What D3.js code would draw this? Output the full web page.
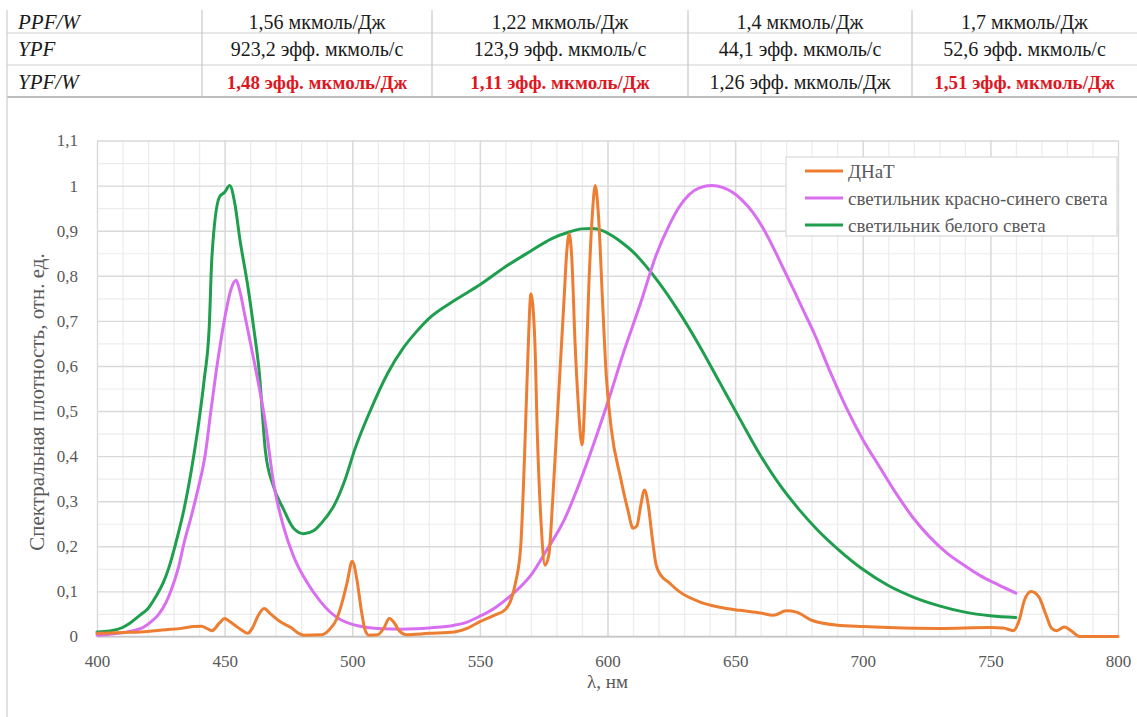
<!DOCTYPE html>
<meta charset="utf-8">
<html>
<head>
    <script src="https://d3js.org/d3.v7.min.js"></script>
    <style>
        body { margin: 0; background: #fff; }
        svg { display: block; font-family: "Liberation Serif", serif; }
        svg text { font-family: "Liberation Serif", serif; }
    </style>
</head>
<body>
<div id="chart"></div>
<script>
    // table above the chart
    var rowLabels = ["PPF/W", "YPF", "YPF/W"];
    var tableRows = [
        ["1,56 мкмоль/Дж", "1,22 мкмоль/Дж", "1,4 мкмоль/Дж", "1,7 мкмоль/Дж"],
        ["923,2 эфф. мкмоль/с", "123,9 эфф. мкмоль/с", "44,1 эфф. мкмоль/с", "52,6 эфф. мкмоль/с"],
        ["1,48 эфф. мкмоль/Дж", "1,11 эфф. мкмоль/Дж", "1,26 эфф. мкмоль/Дж", "1,51 эфф. мкмоль/Дж"]
    ];
    var highlighted = [[], [], [0, 1, 3]];

    // series
    var seriesNames = ["ДНаТ", "светильник красно-синего света", "светильник белого света"];

    var hpsWl = [400, 410, 417, 427, 433, 438, 441, 443, 445, 448, 450, 452, 454, 457, 459, 461, 463, 465.5, 468, 472, 476, 479, 481, 488, 491, 494, 496, 498, 500, 502, 503.5, 505, 506.5, 510, 512.5, 514.5, 516.5, 518.5, 521, 530, 540, 545, 550, 556, 560, 562, 564, 566, 567.5, 568.8, 570, 571.5, 572.5, 574, 575.5, 577, 578.5, 580, 581.5, 583, 584, 585, 586, 587.3, 588.5, 590, 591.5, 592.7, 594, 595.2, 596.5, 598, 599.5, 601.5, 605, 608, 610, 611.5, 613, 614.5, 616, 617.5, 619, 621, 624, 628, 636, 644, 652, 660, 665, 670, 674, 680, 690, 700, 710, 730, 750, 755, 759, 761.3, 763.3, 766, 769, 771.6, 774, 776, 779, 782, 785, 800];
    var hpsVal = [0.007, 0.009, 0.01, 0.015, 0.018, 0.022, 0.023, 0.018, 0.013, 0.03, 0.04, 0.033, 0.025, 0.013, 0.007, 0.02, 0.045, 0.062, 0.05, 0.032, 0.02, 0.007, 0.003, 0.004, 0.015, 0.04, 0.075, 0.12, 0.167, 0.12, 0.06, 0.015, 0.003, 0.004, 0.02, 0.04, 0.03, 0.012, 0.004, 0.007, 0.01, 0.018, 0.033, 0.048, 0.06, 0.078, 0.12, 0.2, 0.4, 0.62, 0.76, 0.66, 0.45, 0.25, 0.158, 0.18, 0.3, 0.45, 0.6, 0.75, 0.85, 0.893, 0.84, 0.65, 0.52, 0.425, 0.58, 0.78, 0.93, 1.0, 0.93, 0.75, 0.58, 0.46, 0.355, 0.28, 0.24, 0.245, 0.29, 0.325, 0.29, 0.22, 0.16, 0.135, 0.12, 0.1, 0.077, 0.065, 0.058, 0.052, 0.047, 0.057, 0.054, 0.036, 0.025, 0.022, 0.02, 0.018, 0.02, 0.019, 0.013, 0.036, 0.08, 0.1, 0.088, 0.051, 0.018, 0.013, 0.021, 0.011, 0, 0];

    var rbWl = [400, 405, 410, 415, 418, 421, 424, 427, 429, 432, 434, 437, 439.5, 442.5, 444.5, 446.5, 448.5, 450.5, 452.5, 454.5, 456, 458, 461.5, 465.5, 469.5, 473, 477, 482.5, 487.5, 491, 495.5, 500, 506, 512, 519, 525, 530, 540, 545, 550, 556, 562, 570, 576, 583, 589, 596, 601, 606, 613, 619, 624, 628, 632, 636, 641, 645, 649, 653, 657, 661, 665, 669, 673, 677, 681, 687, 693.5, 700, 706.5, 713, 719.5, 726, 733, 740, 746, 753, 760];
    var rbVal = [0.003, 0.005, 0.008, 0.014, 0.02, 0.032, 0.048, 0.075, 0.102, 0.155, 0.205, 0.268, 0.325, 0.407, 0.495, 0.58, 0.655, 0.72, 0.77, 0.79, 0.765, 0.71, 0.612, 0.49, 0.33, 0.245, 0.178, 0.118, 0.078, 0.056, 0.037, 0.027, 0.02, 0.017, 0.016, 0.017, 0.019, 0.025, 0.032, 0.045, 0.064, 0.09, 0.136, 0.19, 0.258, 0.34, 0.45, 0.535, 0.625, 0.74, 0.845, 0.91, 0.952, 0.98, 0.995, 1.0, 0.996, 0.985, 0.966, 0.94, 0.905, 0.862, 0.815, 0.768, 0.72, 0.672, 0.59, 0.508, 0.437, 0.377, 0.318, 0.265, 0.222, 0.185, 0.157, 0.135, 0.115, 0.096];

    var whiteWl = [400, 405, 410, 413, 417, 420, 423, 426, 428, 431, 434, 437, 440, 442, 444, 445, 448, 450, 452, 454, 456, 459, 461.5, 463.5, 466, 469, 473, 477, 481, 485, 488, 493, 497, 501, 507, 514, 520, 525, 530, 540, 550, 560, 570, 578, 585, 590, 594, 598, 602, 606, 610, 615, 620, 628, 636, 644, 652, 660, 667.5, 675, 682, 690, 700, 710, 720, 730, 740, 750, 760];
    var whiteVal = [0.01, 0.012, 0.02, 0.03, 0.048, 0.062, 0.088, 0.12, 0.15, 0.21, 0.28, 0.37, 0.48, 0.57, 0.69, 0.84, 0.975, 0.985, 1.0, 0.96, 0.88, 0.78, 0.68, 0.59, 0.41, 0.335, 0.283, 0.24, 0.228, 0.235, 0.252, 0.292, 0.345, 0.415, 0.5, 0.585, 0.64, 0.675, 0.705, 0.745, 0.78, 0.82, 0.855, 0.882, 0.897, 0.904, 0.905, 0.9, 0.888, 0.872, 0.853, 0.822, 0.786, 0.72, 0.645, 0.563, 0.481, 0.401, 0.336, 0.282, 0.238, 0.195, 0.149, 0.113, 0.087, 0.068, 0.054, 0.046, 0.042];

    var colors = ["#ed7d31", "#d96ff0", "#1f9e4e"];
    var xTicks = [400, 450, 500, 550, 600, 650, 700, 750, 800];
    var yTicks = [0, 0.1, 0.2, 0.3, 0.4, 0.5, 0.6, 0.7, 0.8, 0.9, 1, 1.1];

    var W = 1137, H = 717;
    var margin = { top: 140.5, right: 19, bottom: 80.5, left: 97 },
        width = W - margin.left - margin.right,
        height = H - margin.top - margin.bottom;

    var svg = d3.select("#chart").append("svg")
        .attr("width", W)
        .attr("height", H);

    // table
    var colEdges = [7, 202, 432, 688, 912, 1137];
    var rowEdges = [10, 33, 65, 97];
    var tbl = svg.append("g");
    rowEdges.slice(1).forEach(function (y, i) {
        tbl.append("line")
            .attr("x1", 7).attr("x2", 1137)
            .attr("y1", y).attr("y2", y)
            .attr("stroke", i == 2 ? "#bdbdbd" : "#d0d0d0")
            .attr("stroke-width", i == 2 ? 2 : 1.2);
    });
    colEdges.slice(1, 5).forEach(function (x) {
        tbl.append("line")
            .attr("x1", x).attr("x2", x)
            .attr("y1", rowEdges[0]).attr("y2", rowEdges[3])
            .attr("stroke", "#c8c8c8").attr("stroke-width", 1.2);
    });
    // frame on the left
    svg.append("line")
        .attr("x1", 7).attr("x2", 7).attr("y1", 10).attr("y2", H)
        .attr("stroke", "#cfcfcf").attr("stroke-width", 1.2);

    var rowMid = [22, 49, 82];
    rowLabels.forEach(function (lab, r) {
        tbl.append("text")
            .attr("x", 18).attr("y", rowMid[r])
            .attr("dy", "0.35em")
            .style("font-size", "21px")
            .style("font-style", "italic")
            .attr("fill", "#1a1a1a")
            .text(lab);
        tableRows[r].forEach(function (v, c) {
            var red = highlighted[r].indexOf(c) >= 0;
            tbl.append("text")
                .attr("x", (colEdges[c + 1] + colEdges[c + 2]) / 2)
                .attr("y", rowMid[r])
                .attr("dy", "0.35em")
                .attr("text-anchor", "middle")
                .style("font-size", red ? "19px" : "20px")
                .style("font-weight", red ? "bold" : "normal")
                .attr("fill", red ? "#e0161f" : "#1a1a1a")
                .text(v);
        });
    });

    var g = svg.append("g")
        .attr("transform", "translate(" + margin.left + "," + margin.top + ")");

    var x = d3.scaleLinear().domain([400, 800]).range([0, width]);
    var y = d3.scaleLinear().domain([0, 1.1]).range([height, 0]);

    // minor grid
    g.append("g")
        .attr("transform", "translate(0," + height + ")")
        .call(d3.axisBottom(x).tickValues(d3.range(410, 800, 10)).tickSize(-height).tickFormat(""))
        .call(function (s) { s.select(".domain").remove(); })
        .selectAll("line").attr("stroke", "#ececec").attr("stroke-width", 1.2);
    g.append("g")
        .call(d3.axisLeft(y).tickValues(d3.range(1, 22, 2).map(function (d) { return d * 0.05; })).tickSize(-width).tickFormat(""))
        .call(function (s) { s.select(".domain").remove(); })
        .selectAll("line").attr("stroke", "#ececec").attr("stroke-width", 1.2);

    // major grid
    g.append("g")
        .attr("transform", "translate(0," + height + ")")
        .call(d3.axisBottom(x).tickValues(xTicks).tickSize(-height).tickFormat(""))
        .call(function (s) { s.select(".domain").remove(); })
        .selectAll("line").attr("stroke", "#d9d9d9").attr("stroke-width", 1.4);
    g.append("g")
        .call(d3.axisLeft(y).tickValues(yTicks).tickSize(-width).tickFormat(""))
        .call(function (s) { s.select(".domain").remove(); })
        .selectAll("line").attr("stroke", "#d9d9d9").attr("stroke-width", 1.4);

    // bottom axis line
    g.append("line")
        .attr("x1", 0).attr("x2", width)
        .attr("y1", y(0)).attr("y2", y(0))
        .attr("stroke", "#c6c6c6").attr("stroke-width", 1.6);

    var ruFormat = d3.formatLocale({ decimal: ",", thousands: " ", grouping: [3], currency: ["", ""] }).format("~g");

    // tick labels
    var xAxis = g.append("g")
        .attr("transform", "translate(0," + height + ")")
        .call(d3.axisBottom(x).tickValues(xTicks).tickSize(0).tickPadding(18));
    xAxis.select(".domain").remove();
    xAxis.attr("font-family", null);
    xAxis.selectAll("text")
        .style("font-size", "17px")
        .attr("fill", "#595959");

    var yAxis = g.append("g")
        .call(d3.axisLeft(y).tickValues(yTicks).tickSize(0).tickPadding(19)
            .tickFormat(function (d) { return ruFormat(+d.toFixed(2)); }));
    yAxis.select(".domain").remove();
    yAxis.attr("font-family", null);
    yAxis.selectAll("text")
        .style("font-size", "17px")
        .attr("fill", "#595959");

    // axis titles
    svg.append("text")
        .attr("x", x(600) + margin.left)
        .attr("y", 688)
        .attr("text-anchor", "middle")
        .style("font-size", "19px")
        .attr("fill", "#595959")
        .text("λ, нм");

    svg.append("text")
        .attr("transform", "translate(44,402) rotate(-90)")
        .attr("text-anchor", "middle")
        .style("font-size", "21px")
        .attr("fill", "#595959")
        .text("Спектральная плотность, отн. ед.");

    // lines
    var series = [
        { wl: hpsWl, val: hpsVal },
        { wl: rbWl, val: rbVal },
        { wl: whiteWl, val: whiteVal }
    ];
    var line = d3.line()
        .x(function (d) { return x(d[0]); })
        .y(function (d) { return y(d[1]); })
        .curve(d3.curveMonotoneX);

    // draw order: white, red-blue, HPS on top
    [2, 1, 0].forEach(function (i) {
        var pts = series[i].wl.map(function (w, k) { return [w, series[i].val[k]]; });
        g.append("path")
            .datum(pts)
            .attr("d", line)
            .attr("fill", "none")
            .attr("stroke", colors[i])
            .attr("stroke-width", 3)
            .attr("stroke-linejoin", "round")
            .attr("stroke-linecap", "round");
    });

    // legend
    var lg = svg.append("g").attr("transform", "translate(786,157)");
    lg.append("rect")
        .attr("width", 331).attr("height", 79)
        .attr("fill", "#fff")
        .attr("stroke", "#d9d9d9").attr("stroke-width", 1.2);
    seriesNames.forEach(function (name, i) {
        var yy = 14 + i * 27;
        lg.append("line")
            .attr("x1", 19).attr("x2", 57)
            .attr("y1", yy).attr("y2", yy)
            .attr("stroke", colors[i]).attr("stroke-width", 3);
        lg.append("text")
            .attr("x", 62).attr("y", yy)
            .attr("dy", "0.35em")
            .style("font-size", "19px")
            .attr("fill", "#595959")
            .text(name);
    });
</script>
</body>
</html>
